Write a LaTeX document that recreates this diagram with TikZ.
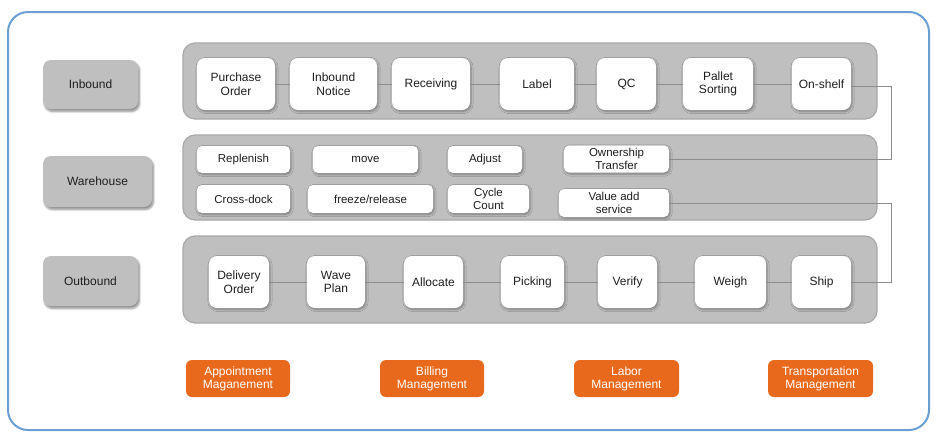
\documentclass[tikz,border=0pt]{standalone}
\usepackage{fontspec}
\setmainfont{Liberation Sans}
\usetikzlibrary{shadows.blur}
\definecolor{frameblue}{HTML}{6A9FD4}
\definecolor{panelgray}{HTML}{BFBFBF}
\definecolor{paneledge}{HTML}{A8A8A8}
\definecolor{linegray}{HTML}{8C8C8C}
\definecolor{mgmtorange}{HTML}{E8691C}
\definecolor{textdark}{HTML}{1F1F1F}

\begin{document}
\begin{tikzpicture}[x=1pt,y=-1pt,
      panel/.style={draw=paneledge,fill=panelgray,line width=1.2pt,
                    rounded corners=12pt,inner sep=0pt},
      side/.style={fill=panelgray,rounded corners=8pt,inner sep=0pt,
                   font=\fontsize{12}{13.5}\selectfont,text=textdark,
                   blur shadow={shadow xshift=1.5pt,shadow yshift=-2.5pt,
                                shadow blur steps=6,shadow opacity=45}},
      stepbox/.style={fill=white,rounded corners=8pt,inner sep=0pt,
                      align=center,minimum height=52pt,
                      font=\fontsize{12}{13.5}\selectfont,text=textdark,
                      blur shadow={shadow xshift=1pt,shadow yshift=-1.5pt,
                                   shadow blur steps=5,shadow opacity=35}},
      taskbox/.style={stepbox,rounded corners=5pt,minimum height=27pt,
                      font=\fontsize{11.5}{12.5}\selectfont},
      mgmt/.style={fill=mgmtorange,rounded corners=6pt,inner sep=0pt,
                   align=center,minimum width=105pt,minimum height=37pt,
                   font=\fontsize{12}{13}\selectfont,text=white},
      conn/.style={linegray,line width=1pt}]
    \useasboundingbox (0,0) rectangle (945,440);
    \draw[frameblue,line width=2pt,rounded corners=20pt] (8,12) rectangle (929,430);

    % row labels
    \node[side,minimum width=95pt,minimum height=49pt] (inb) at (90.5,84.5) {Inbound};
    \node[side,minimum width=109pt,minimum height=51pt] (wh) at (97.5,181.5) {Warehouse};
    \node[side,minimum width=95pt,minimum height=50pt] (outb) at (90.5,281) {Outbound};

    % panels
    \node[panel,minimum width=694pt,minimum height=76pt] (pin) at (530,81) {};
    \node[panel,minimum width=694pt,minimum height=85pt] (pwh) at (530,177.5) {};
    \node[panel,minimum width=694pt,minimum height=87pt] (pout) at (530,279.5) {};

    % inbound flow
    \node[stepbox,minimum width=78pt] (po) at (236,84) {Purchase\\Order};
    \node[stepbox,minimum width=87pt] (asn) at (333.5,84) {Inbound\\Notice};
    \node[stepbox,minimum width=78pt] (recv) at (431,84) {Receiving};
    \node[stepbox,minimum width=74pt] (lbl) at (537,84) {Label};
    \node[stepbox,minimum width=59pt] (qc) at (626.5,84) {QC};
    \node[stepbox,minimum width=70pt] (pallet) at (718,84) {Pallet\\Sorting};
    \node[stepbox,minimum width=59pt] (shelf) at (821.5,84) {On-shelf};

    % warehouse tasks
    \node[taskbox,minimum width=93pt] (repl) at (243.5,159.5) {Replenish};
    \node[taskbox,minimum width=105pt] (move) at (365.5,159.5) {move};
    \node[taskbox,minimum width=74pt] (adj) at (485,159.5) {Adjust};
    \node[taskbox,minimum width=105pt] (owner) at (616.5,159) {Ownership\\Transfer};
    \node[taskbox,minimum width=93pt,minimum height=28pt] (xdock) at (243.5,199) {Cross-dock};
    \node[taskbox,minimum width=125pt,minimum height=28pt] (freeze) at (370.5,199) {freeze/release};
    \node[taskbox,minimum width=81pt,minimum height=28pt] (cycle) at (488.5,199) {Cycle\\Count};
    \node[taskbox,minimum width=110pt,minimum height=28pt] (vas) at (614,203) {Value add\\service};

    % outbound flow
    \node[stepbox,minimum width=60pt] (dlv) at (239,282) {Delivery\\Order};
    \node[stepbox,minimum width=58pt] (wave) at (336,282) {Wave\\Plan};
    \node[stepbox,minimum width=59pt] (alloc) at (433.5,282) {Allocate};
    \node[stepbox,minimum width=63pt] (pick) at (532.5,282) {Picking};
    \node[stepbox,minimum width=59pt] (verify) at (627.5,282) {Verify};
    \node[stepbox,minimum width=71pt] (weigh) at (730.5,282) {Weigh};
    \node[stepbox,minimum width=59pt] (ship) at (821.5,282) {Ship};

    % management modules
    \node[mgmt,minimum width=104pt] (appt) at (238,378.5) {Appointment\\Maganement};
    \node[mgmt,minimum width=104pt] (bill) at (432,378.5) {Billing\\Management};
    \node[mgmt] (labor) at (626.5,378.5) {Labor\\Management};
    \node[mgmt] (trans) at (820.5,378.5) {Transportation\\Management};

    % connectors
    \draw[conn] (po) -- (asn);
    \draw[conn] (asn) -- (recv);
    \draw[conn] (recv) -- (lbl);
    \draw[conn] (lbl) -- (qc);
    \draw[conn] (qc) -- (pallet);
    \draw[conn] (pallet) -- (shelf);
    \draw[conn] (dlv) -- (wave);
    \draw[conn] (wave) -- (alloc);
    \draw[conn] (alloc) -- (pick);
    \draw[conn] (pick) -- (verify);
    \draw[conn] (verify) -- (weigh);
    \draw[conn] (weigh) -- (ship);
    \coordinate (turn) at (891,86);
    \draw[conn] (shelf.east |- turn) -- (turn) |- (owner);
    \draw[conn] (vas) -- (vas -| turn) |- (ship);
  \end{tikzpicture}
\end{document}
